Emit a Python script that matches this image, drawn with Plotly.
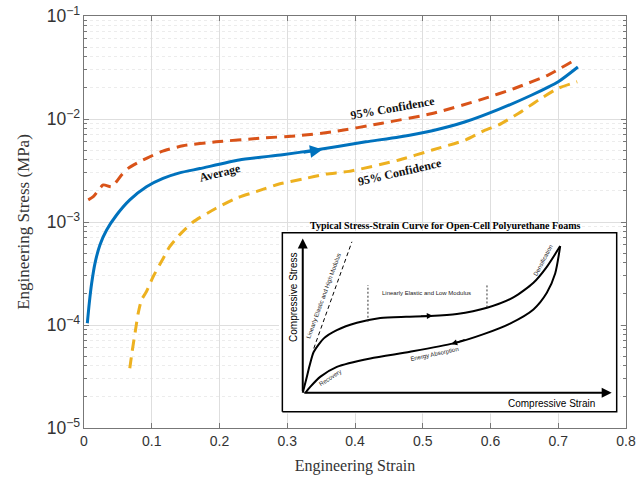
import plotly.graph_objects as go
import numpy as np

# ---- main chart data ----
avg_strain = [0.0049, 0.0078, 0.0113, 0.0162, 0.0235, 0.0334, 0.0481, 0.0676, 0.0922, 0.1166, 0.141,
              0.171, 0.229, 0.293, 0.337, 0.416, 0.465, 0.514, 0.563, 0.612, 0.661, 0.70, 0.729]
avg_stress = [1.04e-4, 1.63e-4, 2.54e-4, 3.97e-4, 5.98e-4, 8.36e-4, 1.17e-3, 1.64e-3, 2.2e-3, 2.65e-3, 3.0e-3,
              3.3e-3, 4.0e-3, 4.5e-3, 4.95e-3, 6.0e-3, 6.7e-3, 7.7e-3, 9.4e-3, 1.24e-2, 1.71e-2, 2.3e-2, 3.2e-2]

upper_strain = [0.0063, 0.0137, 0.0284, 0.0407, 0.0554, 0.0652, 0.0824, 0.0922, 0.114, 0.146, 0.195,
                0.259, 0.318, 0.367, 0.44, 0.514, 0.587, 0.636, 0.685, 0.72]
upper_stress = [1.64e-3, 1.76e-3, 2.29e-3, 2.2e-3, 2.86e-3, 3.32e-3, 3.86e-3, 4.15e-3, 4.82e-3, 5.5e-3, 6.0e-3,
                6.5e-3, 6.9e-3, 7.5e-3, 9.1e-3, 1.13e-2, 1.55e-2, 1.99e-2, 2.67e-2, 3.6e-2]

lower_strain = [0.0676, 0.071, 0.0755, 0.08, 0.0848, 0.092, 0.102, 0.1166, 0.126, 0.141, 0.161, 0.195,
                0.2245, 0.254, 0.288, 0.3225, 0.357, 0.391, 0.465, 0.514, 0.563, 0.592, 0.612, 0.641,
                0.671, 0.70, 0.728]
lower_stress = [3.8e-5, 5.5e-5, 8.5e-5, 1.3e-4, 1.75e-4, 2.1e-4, 2.94e-4, 4.4e-4, 5.7e-4, 7.5e-4, 1.0e-3, 1.36e-3,
                1.7e-3, 1.97e-3, 2.34e-3, 2.61e-3, 2.92e-3, 3.1e-3, 4.0e-3, 5.0e-3, 6.25e-3, 7.8e-3, 8.75e-3,
                1.13e-2, 1.53e-2, 1.99e-2, 2.3e-2]

# ---- inset schematic (normalised inset units) ----
load_u = [0.061, 0.072, 0.082, 0.094, 0.124, 0.163, 0.223, 0.293, 0.37, 0.442, 0.522, 0.612, 0.691, 0.751, 0.791, 0.831]
load_v = [0.106, 0.186, 0.261, 0.335, 0.410, 0.456, 0.497, 0.524, 0.531, 0.535, 0.546, 0.581, 0.639, 0.721, 0.810, 0.926]
unload_u = [0.831, 0.816, 0.791, 0.751, 0.681, 0.602, 0.512, 0.382, 0.263, 0.163, 0.114, 0.084, 0.069]
unload_v = [0.926, 0.773, 0.665, 0.572, 0.493, 0.434, 0.382, 0.335, 0.298, 0.251, 0.196, 0.140, 0.106]
modulus_u = [0.094, 0.208]
modulus_v = [0.354, 0.950]
plateau_u = [0.256, 0.612]
plateau_top = [0.708, 0.708]
plateau_bot = [0.503, 0.583]
origin = (0.061, 0.106)

BLUE = "#0072BD"
RED = "#D95319"
YELLOW = "#EDB120"
SERIF = "Liberation Serif"
SANS = "Liberation Sans"

fig = go.Figure()

fig.add_trace(go.Scatter(x=upper_strain, y=upper_stress, mode="lines",
                         line=dict(color=RED, width=3, dash="11px,7px", shape="spline", smoothing=0.6)))
fig.add_trace(go.Scatter(x=lower_strain, y=lower_stress, mode="lines",
                         line=dict(color=YELLOW, width=3, dash="11px,7px", shape="spline", smoothing=0.6)))
fig.add_trace(go.Scatter(x=avg_strain, y=avg_stress, mode="lines",
                         line=dict(color=BLUE, width=3, shape="spline", smoothing=0.6)))

# inset box
fig.add_trace(go.Scatter(x=[0, 1, 1, 0, 0], y=[0, 0, 1, 1, 0], mode="lines", fill="toself",
                         fillcolor="white", line=dict(color="black", width=1.5),
                         xaxis="x2", yaxis="y2", hoverinfo="skip"))
fig.add_trace(go.Scatter(x=load_u, y=load_v, mode="lines",
                         line=dict(color="black", width=2, shape="spline", smoothing=0.7),
                         xaxis="x2", yaxis="y2"))
fig.add_trace(go.Scatter(x=unload_u, y=unload_v, mode="lines",
                         line=dict(color="black", width=2, shape="spline", smoothing=0.7),
                         xaxis="x2", yaxis="y2"))
fig.add_trace(go.Scatter(x=modulus_u, y=modulus_v, mode="lines", line=dict(color="black", width=1, dash="4px,3px"),
                         xaxis="x2", yaxis="y2"))
for u, vb in zip(plateau_u, plateau_bot):
    fig.add_trace(go.Scatter(x=[u, u], y=[vb, plateau_top[0]], mode="lines",
                             line=dict(color="#333", width=1, dash="2px,2px"), xaxis="x2", yaxis="y2"))

ann = []
# main annotations
ann.append(dict(x=0.352, y=np.log10(5.05e-3), ax=0.322, ay=np.log10(4.7e-3), xref="x", yref="y",
                axref="x", ayref="y", showarrow=True, arrowhead=2, arrowsize=1, arrowwidth=2.5,
                arrowcolor=BLUE, text=""))
ann.append(dict(x=0.2, y=-2.527, xref="x", yref="y", text="<b>Average</b>", showarrow=False,
                textangle=-14, font=dict(family=SERIF, size=12, color="#111")))
ann.append(dict(x=0.456, y=-1.893, xref="x", yref="y", text="<b>95% Confidence</b>", showarrow=False,
                textangle=-10, font=dict(family=SERIF, size=12, color="#111")))
ann.append(dict(x=0.467, y=-2.515, xref="x", yref="y", text="<b>95% Confidence</b>", showarrow=False,
                textangle=-13, font=dict(family=SERIF, size=12, color="#111")))

ann.append(dict(x=0.666, y=0.4927, xref="paper", yref="paper", showarrow=False,
                text="<b>Typical Stress-Strain Curve for Open-Cell Polyurethane Foams</b>",
                font=dict(family=SERIF, size=10, color="black")))

# inset annotations
def ia(**kw):
    d = dict(xref="x2", yref="y2", showarrow=False)
    d.update(kw)
    ann.append(d)

ia(x=origin[0], y=0.968, ax=origin[0], ay=origin[1], axref="x2", ayref="y2", showarrow=True,
   arrowhead=2, arrowsize=1, arrowwidth=2, arrowcolor="black", text="")
ia(x=0.985, y=origin[1], ax=origin[0], ay=origin[1], axref="x2", ayref="y2", showarrow=True,
   arrowhead=2, arrowsize=1, arrowwidth=2, arrowcolor="black", text="")
ia(x=0.45, y=0.536, ax=0.41, ay=0.533, axref="x2", ayref="y2", showarrow=True,
   arrowhead=2, arrowsize=0.8, arrowwidth=1.5, arrowcolor="black", text="")
ia(x=0.505, y=0.378, ax=0.55, ay=0.405, axref="x2", ayref="y2", showarrow=True,
   arrowhead=2, arrowsize=0.8, arrowwidth=1.5, arrowcolor="black", text="")
ia(x=0.034, y=0.64, text="Compressive Stress", textangle=-90, font=dict(family=SANS, size=10, color="black"))
ia(x=0.806, y=0.047, text="Compressive Strain", font=dict(family=SANS, size=10, color="black"))
ia(x=0.432, y=0.665, text="Linearly Elastic and Low Modulus", font=dict(family=SANS, size=6, color="#222"))
ia(x=0.124, y=0.645, text="Linearly Elastic and High Modulus", textangle=-70, font=dict(family=SANS, size=6, color="#222"))
ia(x=0.781, y=0.847, text="Densification", textangle=-62, font=dict(family=SANS, size=6, color="#222"))
ia(x=0.456, y=0.322, text="Energy Absorption", textangle=-12, font=dict(family=SANS, size=6, color="#222"))
ia(x=0.143, y=0.186, text="Recovery", textangle=-33, font=dict(family=SANS, size=6, color="#222"))

AX = "#777"
fig.update_layout(
    width=636, height=481,
    margin=dict(l=84, r=10, t=16, b=53),
    paper_bgcolor="white", plot_bgcolor="white",
    showlegend=False,
    annotations=ann,
    xaxis=dict(range=[0, 0.8], dtick=0.1, showline=True, linecolor=AX, linewidth=1, mirror="ticks",
               ticks="inside", ticklen=5, tickcolor=AX, showgrid=True, gridcolor="#dedede",
               zeroline=False, automargin=False, ticklabeloverflow="allow",
               tickfont=dict(family=SANS, size=14, color="#333"),
               title=dict(text="Engineering Strain", font=dict(family=SERIF, size=16, color="#333"), standoff=12)),
    yaxis=dict(type="log", range=[-5, -1], dtick=1, exponentformat="power", showline=True, linecolor=AX,
               linewidth=1, mirror="ticks", ticks="inside", ticklen=5, tickcolor=AX, showgrid=True,
               gridcolor="#dedede", zeroline=False, automargin=False, ticklabeloverflow="allow",
               tickfont=dict(family=SANS, size=14, color="#333"),
               minor=dict(dtick="D1", ticks="inside", ticklen=3, tickcolor=AX, showgrid=True,
                          gridcolor="#ececec", griddash="dot"),
               title=dict(text="Engineering Stress (MPa)", font=dict(family=SERIF, size=17, color="#333"), standoff=12)),
    xaxis2=dict(domain=[0.3598, 0.989], range=[-0.01, 1.01], visible=False, anchor="y2"),
    yaxis2=dict(domain=[0.0352, 0.478], range=[-0.01, 1.01], visible=False, anchor="x2"),
)

# remove the default 8px page margin so the figure fills the window exactly
fig.write_html("out.html", config={"displayModeBar": False},
               post_script="document.body.style.margin='0px';")
